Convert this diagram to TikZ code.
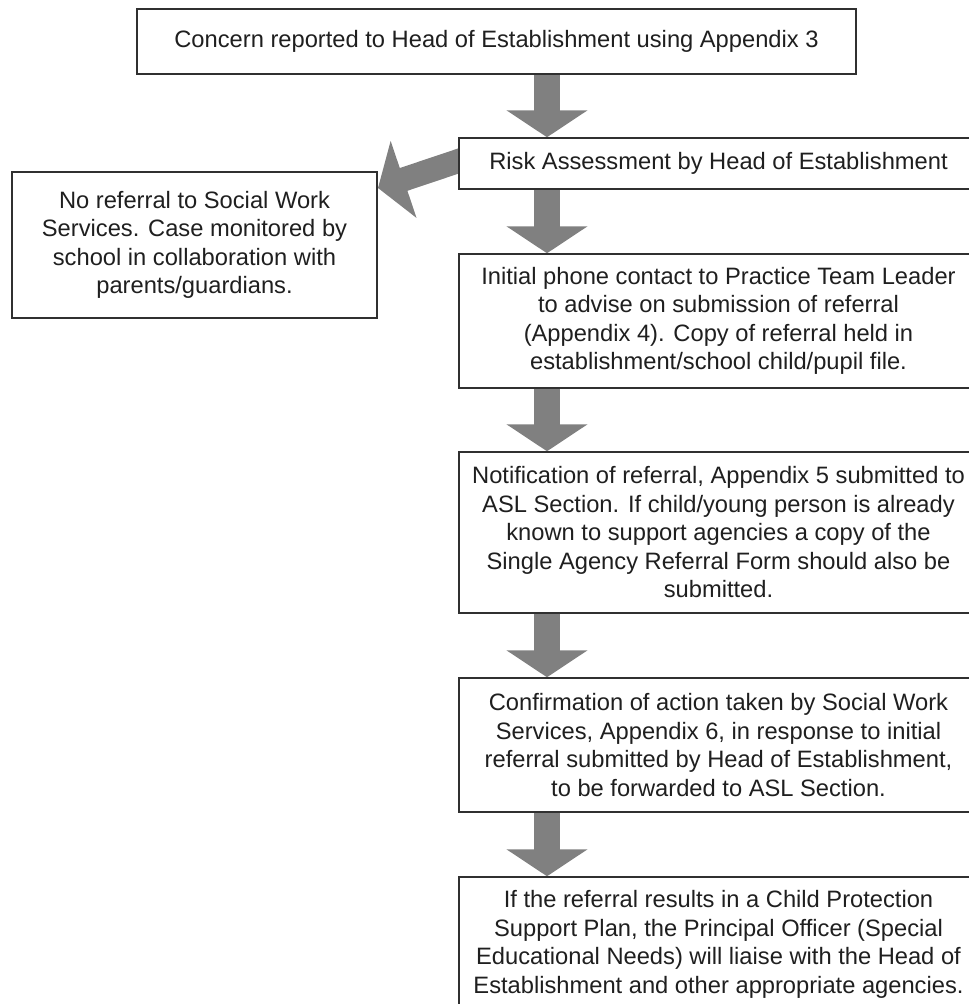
\documentclass[tikz,border=0pt]{standalone}
\usepackage{fontspec}
\setmainfont{Liberation Sans}
\usetikzlibrary{arrows.meta,backgrounds,calc}
\definecolor{arrowgray}{HTML}{808080}
\definecolor{edgecol}{HTML}{303030}
\tikzset{
  box/.style={draw=edgecol, line width=1.5pt, fill=white, align=center, inner sep=0pt,
    font=\fontsize{23.7}{28.5}\selectfont, text=black!88},
  blockarrow/.style={line width=26pt, draw=arrowgray, line cap=butt,
    -{Triangle[width=80pt,length=27pt]}},
}
\begin{document}
\begin{tikzpicture}[x=1pt,y=-1pt]
\useasboundingbox (0,0) rectangle (969,1004);
\clip (0,0) rectangle (969,1004);
\coordinate (ax) at (547,0);
\coordinate (t3) at (378,188);

\node[box, minimum width=719, minimum height=65] (n1) at (496.5,41.5)
  {Concern reported to Head of Establishment using Appendix 3};
\node[box, minimum width=519, minimum height=51] (n2) at (718.5,163.5)
  {Risk Assessment by Head of Establishment};
\node[box, minimum width=365, minimum height=146] (n3) at (194.5,245)
  {No referral to Social Work\\Services. Case monitored by\\school in collaboration with\\parents/guardians.};
\node[box, minimum width=519, minimum height=134] (n4) at (718.5,321)
  {Initial phone contact to Practice Team Leader\\to advise on submission of referral\\(Appendix 4). Copy of referral held in\\establishment/school child/pupil file.};
\node[box, minimum width=519, minimum height=161] (n5) at (718.5,532.5)
  {Notification of referral, Appendix 5 submitted to\\ASL Section. If child/young person is already\\known to support agencies a copy of the\\Single Agency Referral Form should also be\\submitted.};
\node[box, minimum width=519, minimum height=134] (n6) at (718.5,745)
  {Confirmation of action taken by Social Work\\Services, Appendix 6, in response to initial\\referral submitted by Head of Establishment,\\to be forwarded to ASL Section.};
\node[box, minimum width=519, minimum height=135] (n7) at (718.5,944.5)
  {If the referral results in a Child Protection\\Support Plan, the Principal Officer (Special\\Educational Needs) will liaise with the Head of\\Establishment and other appropriate agencies.};

\begin{scope}[on background layer]
  \draw[blockarrow] (n1.south -| ax) -- (n2.north -| ax);
  \draw[blockarrow] (n2.south -| ax) -- (n4.north -| ax);
  \draw[blockarrow] (n4.south -| ax) -- (n5.north -| ax);
  \draw[blockarrow] (n5.south -| ax) -- (n6.north -| ax);
  \draw[blockarrow] (n6.south -| ax) -- (n7.north -| ax);
  \draw[blockarrow, line width=24pt] ($(n2.west)+(10,-5.8)$) -- (t3);
\end{scope}
\end{tikzpicture}
\end{document}
